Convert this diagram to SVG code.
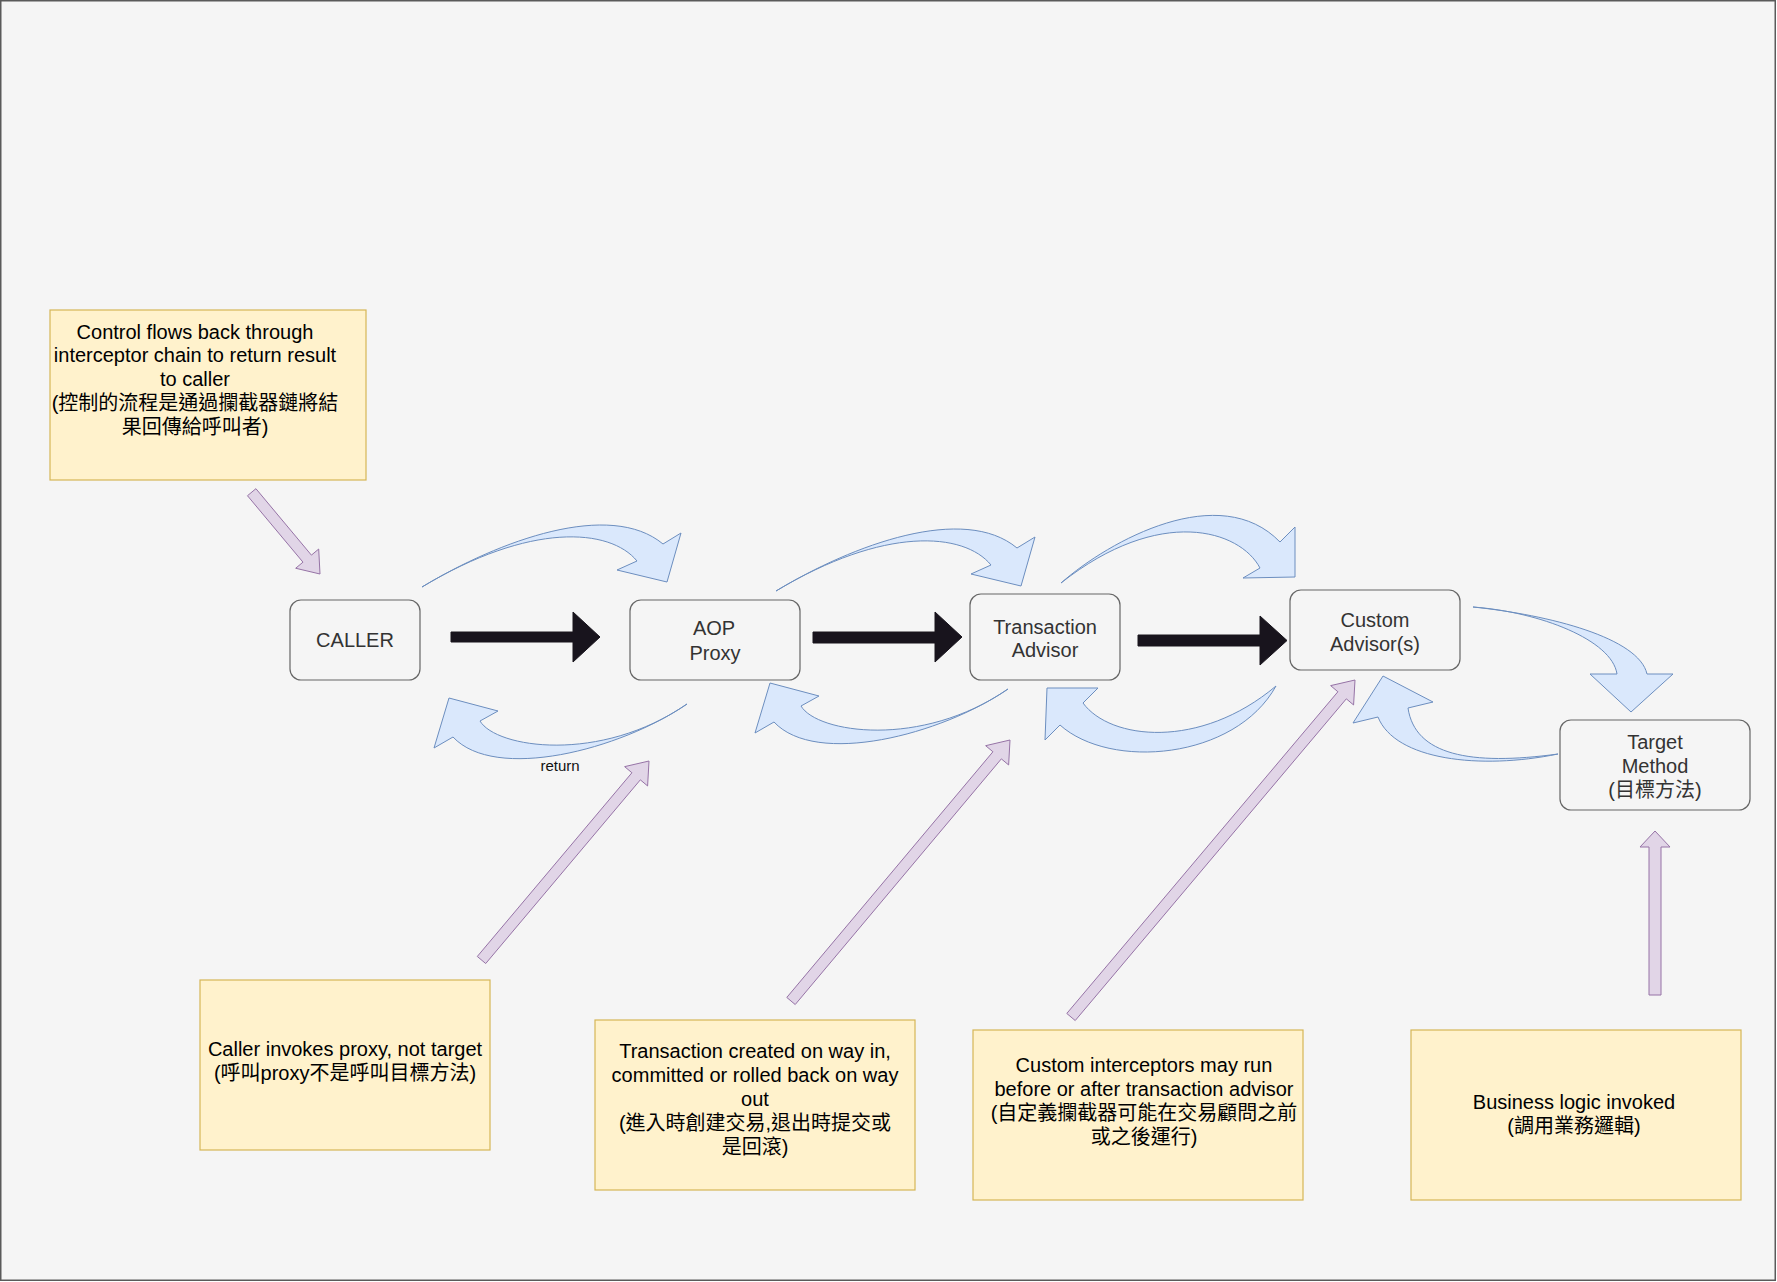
<svg xmlns="http://www.w3.org/2000/svg" width="1777" height="1282" viewBox="0 0 1777 1282">
<style>
.bg{fill:#f5f5f5;stroke:#5a5a5a;stroke-width:1.5}
.node rect{fill:#f5f5f5;stroke:#666666;stroke-width:1.2}
.node text{font-family:"Liberation Sans","Noto Sans CJK TC",Arial,sans-serif;font-size:20px;fill:#333333;text-anchor:middle}
.note rect{fill:#fff2cc;stroke:#d6b656;stroke-width:1.2}
.note text{font-family:"Liberation Sans","Noto Sans CJK TC",Arial,sans-serif;font-size:20px;fill:#000000;text-anchor:middle}
.blue{fill:#dae8fc;stroke:#6c8ebf;stroke-width:1}
.purple{fill:#e1d5e7;stroke:#9673a6;stroke-width:1}
.black{fill:#18141d;stroke:#18141d;stroke-width:1}
.lbl{font-family:"Liberation Sans",Arial,sans-serif;font-size:15px;fill:#111111;text-anchor:middle}
</style>
<defs>
<path id="topArc" d="M 422 587 C 500 540 610 500 663 544 L 681 533 L 667 582 L 617 570 L 637 561 C 610 528 530 522 422 587 Z"/>
<path id="botArc" d="M 687 704 C 620 750 495 782 453 737 L 434 748 L 449 698 L 498 711 L 480 721 C 496 748 600 764 687 704 Z"/>
</defs>
<rect class="bg" x="0.75" y="0.75" width="1774.5" height="1279.5"/>

<g id="connectors">
  <!-- black main flow arrows -->
  <polygon class="black" points="451,632 573,632 573,612 600,637 573,662 573,642 451,642"/>
  <polygon class="black" points="813,632 935,632 935,612 962,637 935,662 935,643 813,643"/>
  <polygon class="black" points="1138,635 1260,635 1260,616 1287,640.5 1260,665 1260,646 1138,646"/>
  <!-- blue curved arrows (calls) -->
  <use href="#topArc" class="blue"/>
  <use href="#topArc" class="blue" transform="translate(354,4)"/>
  <path class="blue" d="M 1061 583 C 1110 540 1220 480 1280 542 L 1295 527 L 1295 577 L 1243 578 L 1260 568 C 1240 530 1160 505 1061 583 Z"/>
  <path class="blue" d="M 1473 607 C 1550 615 1639 638 1647 674 L 1673 674 L 1631 712 L 1590 674 L 1617 674 C 1612 640 1540 612 1473 607 Z"/>
  <!-- blue curved arrows (returns) -->
  <use href="#botArc" class="blue"/>
  <use href="#botArc" class="blue" transform="translate(321,-15)"/>
  <path class="blue" d="M 1276 686 C 1235 760 1110 770 1060 725 L 1045 740 L 1047 688 L 1098 688 L 1083 703 C 1110 740 1200 750 1276 686 Z"/>
  <path class="blue" d="M 1558 754 C 1480 770 1395 760 1378 717 L 1353 723 L 1383 676 L 1433 702 L 1408 708 C 1415 755 1470 766 1558 754 Z"/>
  <text class="lbl" x="560" y="771">return</text>
  <!-- purple annotation arrows -->
  <polygon class="purple" points="247.48,495.72 302.97,562.17 295.68,568.26 320,574 318.70,549.04 311.41,555.13 255.92,488.68"/>
  <polygon class="purple" points="485.71,963.54 640.33,779.84 647.60,785.96 649,761 624.64,766.64 631.91,772.76 477.29,956.46"/>
  <polygon class="purple" points="795.21,1004.54 1001.35,758.86 1008.63,764.96 1010,740 985.65,745.68 992.93,751.78 786.79,997.46"/>
  <polygon class="purple" points="1075.21,1020.54 1346.32,698.83 1353.58,704.96 1355,680 1330.64,685.62 1337.90,691.75 1066.79,1013.46"/>
  <polygon class="purple" points="1661,995 1661,847 1670,847 1655,831 1640,847 1649,847 1649,995"/>
</g>

<g id="node-caller" class="node">
  <rect x="290" y="600" width="130" height="80" rx="11"/>
  <text x="355" y="647">CALLER</text>
</g>
<g id="node-aop-proxy" class="node">
  <rect x="630" y="600" width="170" height="80" rx="11"/>
  <text x="714" y="635">AOP</text>
  <text x="715" y="660">Proxy</text>
</g>
<g id="node-transaction-advisor" class="node">
  <rect x="970" y="594" width="150" height="86" rx="11"/>
  <text x="1045" y="634">Transaction</text>
  <text x="1045" y="657">Advisor</text>
</g>
<g id="node-custom-advisors" class="node">
  <rect x="1290" y="590" width="170" height="80" rx="11"/>
  <text x="1375" y="627">Custom</text>
  <text x="1375" y="651">Advisor(s)</text>
</g>
<g id="node-target-method" class="node">
  <rect x="1560" y="720" width="190" height="90" rx="11"/>
  <text x="1655" y="749">Target</text>
  <text x="1655" y="773">Method</text>
  <text x="1655" y="797">(目標方法)</text>
</g>

<g id="note-control-flow" class="note">
  <rect x="50" y="310" width="316" height="170"/>
  <text x="195" y="339">Control flows back through</text>
  <text x="195" y="362">interceptor chain to return result</text>
  <text x="195" y="386">to caller</text>
  <text x="195" y="410">(控制的流程是通過攔截器鏈將結</text>
  <text x="195" y="434">果回傳給呼叫者)</text>
</g>
<g id="note-caller-invokes" class="note">
  <rect x="200" y="980" width="290" height="170"/>
  <text x="345" y="1056">Caller invokes proxy, not target</text>
  <text x="345" y="1080">(呼叫proxy不是呼叫目標方法)</text>
</g>
<g id="note-transaction" class="note">
  <rect x="595" y="1020" width="320" height="170"/>
  <text x="755" y="1058">Transaction created on way in,</text>
  <text x="755" y="1082">committed or rolled back on way</text>
  <text x="755" y="1106">out</text>
  <text x="755" y="1130">(進入時創建交易,退出時提交或</text>
  <text x="755" y="1154">是回滾)</text>
</g>
<g id="note-custom" class="note">
  <rect x="973" y="1030" width="330" height="170"/>
  <text x="1144" y="1072">Custom interceptors may run</text>
  <text x="1144" y="1096">before or after transaction advisor</text>
  <text x="1144" y="1120">(自定義攔截器可能在交易顧問之前</text>
  <text x="1144" y="1144">或之後運行)</text>
</g>
<g id="note-business" class="note">
  <rect x="1411" y="1030" width="330" height="170"/>
  <text x="1574" y="1109">Business logic invoked</text>
  <text x="1574" y="1133">(調用業務邏輯)</text>
</g>
</svg>
